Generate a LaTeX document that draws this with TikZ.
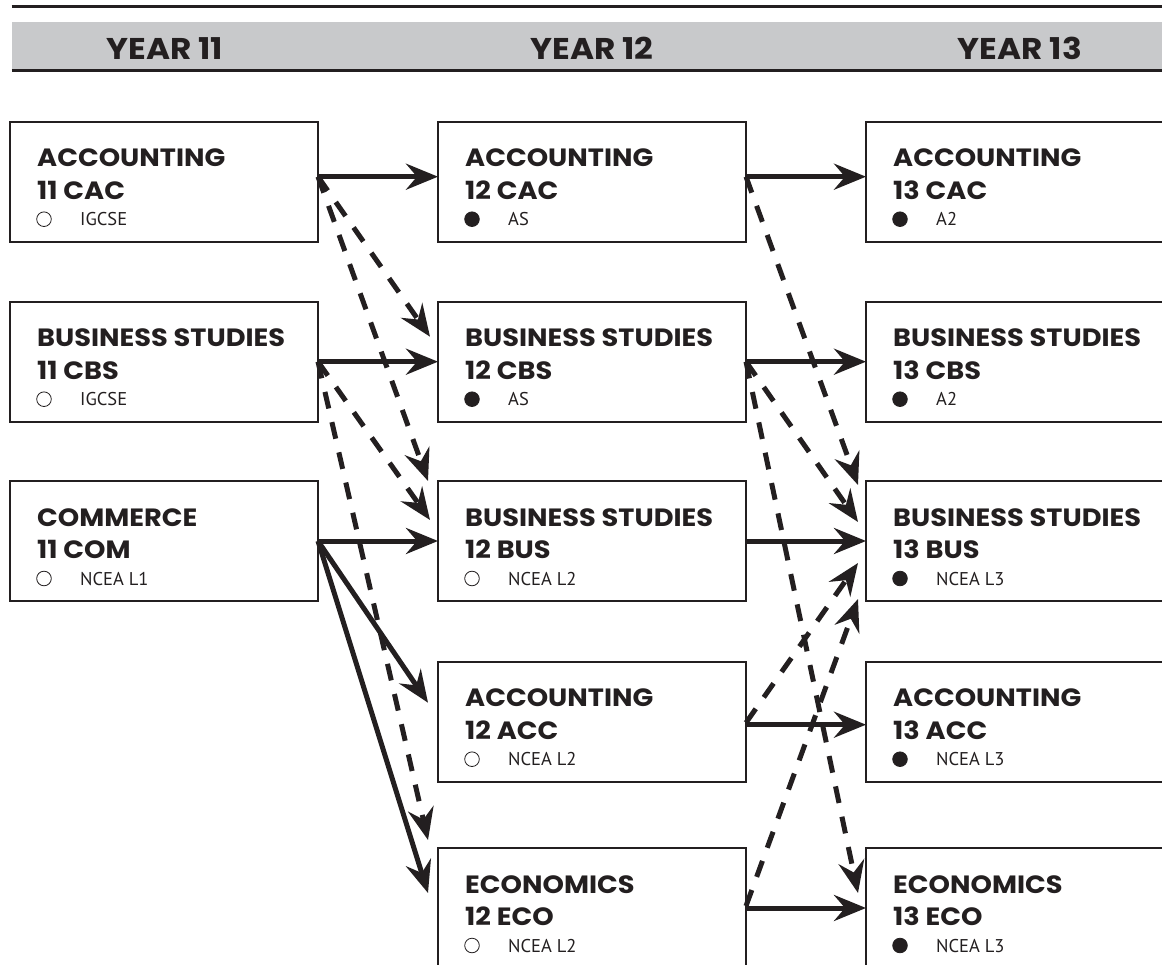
\documentclass[tikz,border=0pt]{standalone}
\usepackage{fontspec}
\setmainfont{PT Sans}
\newfontfamily\hdfont{Poppins}[FakeStretch=1.09]
\usetikzlibrary{arrows.meta,calc}
\definecolor{ink}{HTML}{231F20}
\definecolor{band}{HTML}{C8C9CB}
\tikzset{
  cbox/.style={draw=ink, fill=white, line width=2pt, minimum width=308pt, minimum height=120pt, inner sep=0pt, outer sep=0pt},
  ttl/.style={font=\hdfont\bfseries\fontsize{25}{25}\selectfont, text=ink, inner sep=0pt, anchor=base west},
  subt/.style={font=\fontsize{18.5}{18.5}\selectfont, text=ink, inner sep=0pt, anchor=base west},
  yr/.style={font=\hdfont\bfseries\fontsize{30}{30}\selectfont, text=ink, inner sep=0pt, anchor=base},
  sol/.style={draw=ink, line width=5pt, -{Stealth[length=32pt,width=26pt,inset=11pt]}},
  dsh/.style={sol, dash pattern=on 17pt off 14pt},
  rule/.style={draw=ink, line width=2.5pt},
}
\newcommand\CourseBox[7]{%
  \node[cbox] (#1) at (#2+154, #3+60) {};
  \node[ttl] (#1-t) at ([xshift=27pt,yshift=-45pt]#1.north west) {#4};
  \node[ttl] (#1-c) at ([xshift=27pt,yshift=-77.5pt]#1.north west) {#5};
  \draw[ink, line width=0.8pt, fill=#6] ([xshift=34pt,yshift=-97.5pt]#1.north west) circle[radius=7.3pt];
  \node[subt] (#1-s) at ([xshift=70pt,yshift=-104pt]#1.north west) {#7};
}
\begin{document}
\begin{tikzpicture}[x=1pt,y=-1pt]
\useasboundingbox (0,0) rectangle (1162,965);
\clip (0,0) rectangle (1162,965);
% header
\fill[band] (11.7,21.7) rectangle (1170,70.7);
\draw[rule] (11.7,6.7) -- (1170,6.7);
\draw[rule] (11.7,70.7) -- (1170,70.7);
\node[yr] (y11) at (165,59.3) {YEAR 11};
\node[yr] (y12) at (592,59.3) {YEAR 12};
\node[yr] (y13) at (1020,59.3) {YEAR 13};
% boxes
\CourseBox{c11cac}{10}{121.7}{ACCOUNTING}{11 CAC}{white}{IGCSE}
\CourseBox{c11cbs}{10}{301.7}{BUSINESS STUDIES}{11 CBS}{white}{IGCSE}
\CourseBox{c11com}{10}{481}{COMMERCE}{11 COM}{white}{NCEA L1}
\CourseBox{c12cac}{438}{121.7}{ACCOUNTING}{12 CAC}{ink}{AS}
\CourseBox{c12cbs}{438}{301.7}{BUSINESS STUDIES}{12 CBS}{ink}{AS}
\CourseBox{c12bus}{438}{481}{BUSINESS STUDIES}{12 BUS}{white}{NCEA L2}
\CourseBox{c12acc}{438}{661.7}{ACCOUNTING}{12 ACC}{white}{NCEA L2}
\CourseBox{c12eco}{438}{848}{ECONOMICS}{12 ECO}{white}{NCEA L2}
\CourseBox{c13cac}{866}{121.7}{ACCOUNTING}{13 CAC}{ink}{A2}
\CourseBox{c13cbs}{866}{301.7}{BUSINESS STUDIES}{13 CBS}{ink}{A2}
\CourseBox{c13bus}{866}{481}{BUSINESS STUDIES}{13 BUS}{ink}{NCEA L3}
\CourseBox{c13acc}{866}{661.7}{ACCOUNTING}{13 ACC}{ink}{NCEA L3}
\CourseBox{c13eco}{866}{848}{ECONOMICS}{13 ECO}{ink}{NCEA L3}
% solid arrows
\draw[sol] ([yshift=5pt]c11cac.east) -- ([yshift=5pt]c12cac.west);
\draw[sol] (c11cbs.east) -- (c12cbs.west);
\draw[sol] (c11com.east) -- (c12bus.west);
\draw[sol] (c11com.east) -- ([xshift=-10pt,yshift=-41pt]c12acc.north west);
\draw[sol] (c11com.east) -- ([xshift=-10pt,yshift=-45pt]c12eco.north west);
\draw[sol] ([yshift=5pt]c12cac.east) -- ([yshift=5pt]c13cac.west);
\draw[sol] (c12cbs.east) -- (c13cbs.west);
\draw[sol] (c12bus.east) -- (c13bus.west);
\draw[sol] ([yshift=-3pt]c12acc.east) -- ([yshift=-3pt]c13acc.west);
\draw[sol] (c12eco.east) -- (c13eco.west);
% dashed arrows
\draw[dsh] ([yshift=5pt]c11cac.east) -- ([xshift=-8pt,yshift=-35pt]c12cbs.north west);
\draw[dsh] ([yshift=5pt]c11cac.east) -- ([xshift=-10pt]c12bus.north west);
\draw[dsh] (c11cbs.east) -- ([xshift=-8pt,yshift=-39pt]c12bus.north west);
\draw[dsh] (c11cbs.east) -- ([xshift=-10pt,yshift=8pt]c12eco.north west);
\draw[dsh] ([yshift=5pt]c12cac.east) -- ([xshift=-8pt,yshift=-4pt]c13bus.north west);
\draw[dsh] (c12cbs.east) -- ([xshift=-8pt,yshift=-41pt]c13bus.north west);
\draw[dsh] ([yshift=-1pt]c12acc.east) -- ([xshift=-8pt,yshift=-82pt]c13bus.north west);
\draw[dsh] ([yshift=2pt]c12eco.east) -- ([xshift=-8pt,yshift=-118pt]c13bus.north west);
\draw[dsh] (c12cbs.east) -- ([xshift=-8pt,yshift=-45pt]c13eco.north west);
\end{tikzpicture}
\end{document}
